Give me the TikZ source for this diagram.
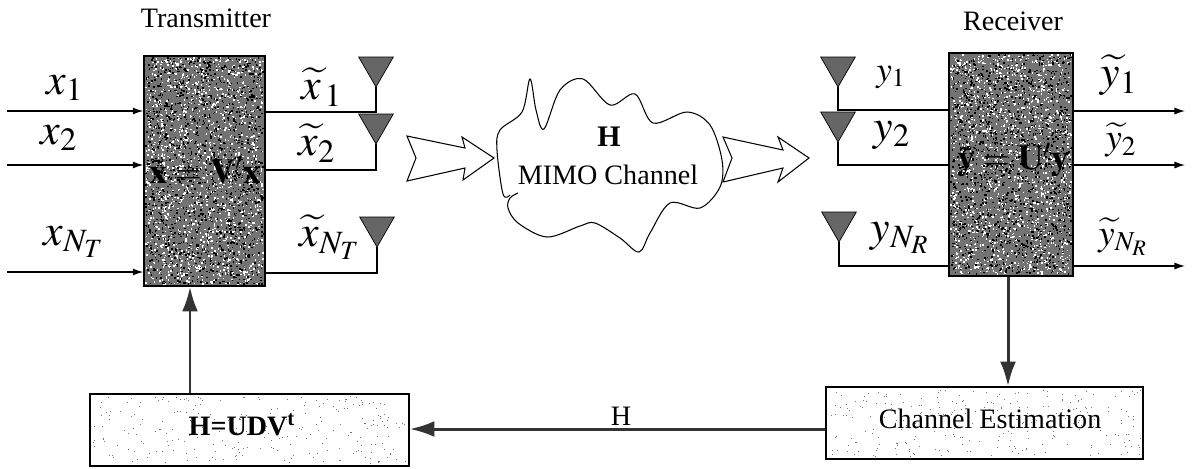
\documentclass[tikz,border=0pt]{standalone}
\usepackage{mathptmx}
\usepackage{amsmath}
\usepackage{fontspec}
\setmainfont{Liberation Serif}
\usetikzlibrary{shapes.geometric,arrows.meta}

\newcommand{\speckle}[7]{%
\foreach \i in {1,...,#5} {
  \fill[#6] ({#1+rnd*(#3-#7)},{#2+rnd*(#4-#7)}) rectangle +(#7,#7);
}}
\newcommand{\fsz}[1]{\fontsize{#1}{#1}\selectfont}

\tikzset{
  darkbox/.style={draw=black,line width=0.8pt,fill=black!55,minimum height=4.6cm,minimum width=2.42cm,inner sep=0pt},
  lightbox/.style={draw=black,line width=0.8pt,fill=white,inner sep=0pt},
  antenna/.style={draw=black,fill=black!60,regular polygon,regular polygon sides=3,shape border rotate=180,minimum size=0.8cm,inner sep=0pt,outer sep=0pt},
  wire/.style={line width=0.7pt},
  sig/.style={line width=0.7pt,-{Latex[length=6pt,width=4pt]}},
  fat/.style={line width=1.7pt,black!80,-{Latex[length=14pt,width=9pt]}},
  bigarrow/.style={draw=black,line width=0.6pt,fill=white},
  lbl/.style={font=\fsz{16}},
  mlbl/.style={font=\fsz{25},inner sep=0pt}
}

\begin{document}
\begin{tikzpicture}[x=0.02cm,y=-0.02cm]
\useasboundingbox (0,0) rectangle (1194,468);
\pgfmathsetseed{7}

% transmitter and receiver
\node[lbl] (txname) at (206,18) {Transmitter};
\node[lbl] (rxname) at (1013,21) {Receiver};
\node[darkbox] (tx) at (204.5,171) {};
\node[darkbox,minimum width=2.48cm,minimum height=4.46cm] (rx) at (1011,164.5) {};
\speckle{145}{57}{119}{228}{1500}{white}{1.5}
\speckle{145}{57}{119}{228}{1500}{black}{1.5}
\speckle{950}{54}{122}{221}{1500}{white}{1.5}
\speckle{950}{54}{122}{221}{1500}{black}{1.5}
\node[font=\fsz{20}\bfseries,inner sep=0pt] (txeq) at (205,170) {$\tilde{\mathbf{x}}=\mathbf{V}^{\prime}\mathbf{x}$};
\node[font=\fsz{20}\bfseries,inner sep=0pt] (rxeq) at (1013,160) {$\tilde{\mathbf{y}}=\mathbf{U}^{\prime}\mathbf{y}$};

% lower boxes
\node[lightbox,minimum width=6.38cm,minimum height=1.44cm] (svd) at (249.5,430) {};
\node[lightbox,minimum width=6.34cm,minimum height=1.44cm] (est) at (984.5,423) {};
\speckle{92}{396}{315}{68}{260}{black!55}{1}
\speckle{828}{389}{313}{68}{260}{black!55}{1}
\node[font=\fsz{16}\bfseries,inner sep=0pt] (svdname) at (242,425) {H=UDV\textsuperscript{t}};
\node[lbl,inner sep=0pt] (estname) at (990,419) {Channel Estimation};

% inputs
\coordinate (in1) at (7,111);
\coordinate (in2) at (7,165);
\coordinate (in3) at (7,272);
\draw[sig] (in1) -- (in1 -| tx.west);
\draw[sig] (in2) -- (in2 -| tx.west);
\draw[sig] (in3) -- (in3 -| tx.west);
\node[mlbl] (x1) at (65,88) {$x_1$};
\node[mlbl] (x2) at (59,138) {$x_2$};
\node[mlbl] (x3) at (74,242) {$x_{N_T}$};

% transmit antennas
\node[antenna] (atx1) at (376,67) {};
\node[antenna] (atx2) at (376,124) {};
\node[antenna] (atx3) at (377,227) {};
\coordinate (ltx1) at (376,112);
\coordinate (ltx2) at (376,170);
\coordinate (ltx3) at (377,273);
\draw[wire] (atx1.corner 1) -- (ltx1) -- (ltx1 -| tx.east);
\draw[wire] (atx2.corner 1) -- (ltx2) -- (ltx2 -| tx.east);
\draw[wire] (atx3.corner 1) -- (ltx3) -- (ltx3 -| tx.east);
\node[mlbl] (xt1) at (322,87) {$\widetilde{x}_{\,1}$};
\node[mlbl] (xt2) at (317,143) {$\widetilde{x}_2$};
\node[mlbl] (xt3) at (330,237) {$\widetilde{x}_{N_T}$};

% channel
\draw[line width=0.6pt] plot[smooth,tension=0.55] coordinates {
(518,193) (510,198) (508,208) (518,223) (547,237) (580,226) (595,223) (620,238) (639,252)
(650,233) (670,203) (700,208) (720,187) (722,160) (710,125) (687,112) (653,123)
(635,94) (610,105) (583,79) (560,90) (544,129) (536,110) (530,79) (522,112) (500,130) (497,150) (503,194) (510,195)};
\node[font=\fsz{17}\bfseries,inner sep=0pt] (hname) at (609,137) {H};
\node[lbl,inner sep=0pt] (chname) at (608,175) {MIMO Channel};
\draw[bigarrow] (407,136) -- (465,148) -- (462,137) -- (494,158) -- (463,180) -- (465,168) -- (407,181) -- (416,158) -- cycle;
\draw[bigarrow] (723,137) -- (783,150) -- (778,137) -- (809,158) -- (778,182) -- (783,168) -- (723,182) -- (732,158) -- cycle;

% receive antennas
\node[antenna] (arx1) at (838,67) {};
\node[antenna] (arx2) at (838,122) {};
\node[antenna] (arx3) at (839,222) {};
\coordinate (lrx1) at (838,110);
\coordinate (lrx2) at (838,165);
\coordinate (lrx3) at (839,266);
\draw[wire] (arx1.corner 1) -- (lrx1) -- (lrx1 -| rx.west);
\draw[wire] (arx2.corner 1) -- (lrx2) -- (lrx2 -| rx.west);
\draw[wire] (arx3.corner 1) -- (lrx3) -- (lrx3 -| rx.west);
\node[font=\fsz{20},inner sep=0pt] (y1) at (891,77) {$y_1$};
\node[mlbl] (y2) at (892,135) {$y_2$};
\node[mlbl] (y3) at (900,238) {$y_{N_R}$};

% outputs
\coordinate (out1) at (1185,111);
\coordinate (out2) at (1185,165);
\coordinate (out3) at (1185,266);
\draw[sig] (out1 -| rx.east) -- (out1);
\draw[sig] (out2 -| rx.east) -- (out2);
\draw[sig] (out3 -| rx.east) -- (out3);
\node[mlbl] (yt1) at (1119,75) {$\widetilde{y}_1$};
\node[font=\fsz{21},inner sep=0pt] (yt2) at (1121,140) {$\widetilde{y}_2$};
\node[font=\fsz{21},inner sep=0pt] (yt3) at (1123,237) {$\widetilde{y}_{N_R}$};

% feedback
\draw[fat] (rx.south -| 1008,0) -- (est.north -| 1008,0);
\draw[fat] (svd.north -| 190,0) -- (tx.south -| 190,0);
\draw[fat] (est.west |- 0,429) -- (svd.east |- 0,429);
\node[font=\fsz{16},inner sep=0pt] (hlink) at (621,416) {H};
\end{tikzpicture}
\end{document}
